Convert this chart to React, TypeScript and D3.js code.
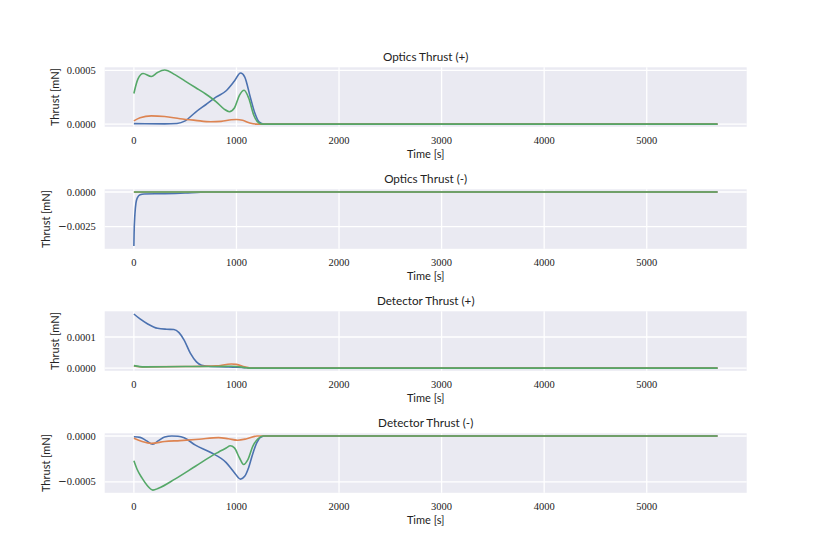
import React, { useRef, useEffect } from 'react';
import * as d3 from 'd3';

type Pt = [number, number];

// time [s], thrust [mN]
const optPlusBlue: Pt[] = [[0, 0.000004], [300, 0.000002], [420, 0.000006], [500, 0.00003], [600, 0.00011], [700, 0.00018], [800, 0.00025], [900, 0.00031], [980, 0.0004], [1040, 0.000475], [1080, 0.00044], [1135, 0.00025], [1180, 0.0001], [1220, 0.00002], [1270, 0], [5690, 0]];
const optPlusOrange: Pt[] = [[0, 0.00003], [60, 0.00006], [170, 0.000076], [300, 0.00007], [450, 0.00005], [600, 0.000035], [750, 0.000022], [850, 0.000025], [950, 0.00004], [1000, 0.000043], [1060, 0.000035], [1130, 0.00001], [1200, 0], [5690, 0]];
const optPlusGreen: Pt[] = [[0, 0.000285], [40, 0.00042], [90, 0.00047], [170, 0.000443], [230, 0.00048], [300, 0.000503], [400, 0.00046], [500, 0.0004], [600, 0.00034], [700, 0.00028], [800, 0.00021], [880, 0.00014], [930, 0.000115], [980, 0.00015], [1030, 0.00027], [1075, 0.000315], [1120, 0.00024], [1170, 0.00008], [1220, 0.00001], [1260, 0], [5690, 0]];

const optMinusBlue: Pt[] = [[0, -0.0039], [2, -0.003], [10, -0.0016], [20, -0.0008], [35, -0.0004], [60, -0.0002], [100, -0.00014], [300, -0.00012], [500, -0.00007], [650, -0.00001], [700, 0], [5690, 0]];
const optMinusOrange: Pt[] = [[0, -0.00001], [200, 0], [5690, 0]];
const optMinusGreen: Pt[] = [[0, 0], [200, 0], [5690, 0]];

const detPlusBlue: Pt[] = [[0, 0.000174], [60, 0.000158], [135, 0.000142], [230, 0.000128], [320, 0.000125], [390, 0.000124], [440, 0.000114], [490, 0.00009], [550, 0.000048], [610, 0.00002], [660, 0.000009], [750, 0.000005], [900, 0.000004], [1000, 0.000003], [1100, 0.000001], [1200, 0], [5690, 0]];
const detPlusOrange: Pt[] = [[0, 0.000007], [100, 0.000004], [500, 0.000005], [800, 0.000007], [950, 0.000013], [1000, 0.000012], [1080, 0.000004], [1150, 0], [5690, 0]];
const detPlusGreen: Pt[] = [[0, 0.000008], [100, 0.000004], [500, 0.000005], [800, 0.000005], [950, 0.000006], [1000, 0.000005], [1100, 0.000001], [1150, 0], [5690, 0]];

const detMinusBlue: Pt[] = [[0, -0.000008], [60, -0.000015], [120, -0.00005], [184, -0.00009], [240, -0.00005], [300, -0.00001], [370, 0], [430, -0.000003], [490, -0.00002], [600, -0.0001], [750, -0.00018], [900, -0.00029], [980, -0.0004], [1040, -0.00047], [1080, -0.00044], [1120, -0.00034], [1160, -0.00019], [1200, -0.00007], [1240, -0.00001], [1280, 0], [5690, 0]];
const detMinusOrange: Pt[] = [[0, -0.000025], [80, -0.00006], [170, -0.00008], [300, -0.00006], [450, -0.00005], [635, -0.000035], [825, -0.000018], [920, -0.00003], [1010, -0.000046], [1100, -0.00003], [1200, 0], [5690, 0]];
const detMinusGreen: Pt[] = [[0, -0.00027], [30, -0.00036], [80, -0.00046], [130, -0.00054], [185, -0.00059], [240, -0.00057], [400, -0.00047], [600, -0.00033], [800, -0.00019], [900, -0.00013], [940, -0.000107], [980, -0.00013], [1030, -0.00024], [1070, -0.00031], [1110, -0.00026], [1160, -0.00011], [1210, -0.00003], [1260, 0], [5690, 0]];

const titles = ['Optics Thrust (+)', 'Optics Thrust (-)', 'Detector Thrust (+)', 'Detector Thrust (-)'];
const yTicks = [[0, 0.0005], [-0.0025, 0], [0, 0.0001], [-0.0005, 0]];
const xTicks = [0, 1000, 2000, 3000, 4000, 5000];
const panels = [
  [optPlusBlue, optPlusOrange, optPlusGreen],
  [optMinusBlue, optMinusOrange, optMinusGreen],
  [detPlusBlue, detPlusOrange, detPlusGreen],
  [detMinusBlue, detMinusOrange, detMinusGreen],
];
const colors = ['#4C72B0', '#DD8452', '#55A868'];

const W = 830;
const H = 554;
const left = 104.7;
const right = 746.7;
const top0 = 67.3;
const step = 122;
const ph = 59.5;
const sans = 'Lato, "Noto Sans", sans-serif';
const serif = '"Liberation Serif", "DejaVu Serif", serif';

const App: React.FC = () => {
  const ref = useRef<SVGSVGElement | null>(null);

  useEffect(() => {
    if (!ref.current) return;
    const svg = d3.select(ref.current);
    svg.selectAll('*').remove();

    const tMin = d3.min(panels.flat().flat(), (p: any) => p[0]) as number;
    const tMax = d3.max(panels.flat().flat(), (p: any) => p[0]) as number;
    const tPad = (tMax - tMin) * 0.05;
    const x = d3.scaleLinear().domain([tMin - tPad, tMax + tPad]).range([left, right]);

    panels.forEach((series, i) => {
      const top = top0 + i * step;
      const bottom = top + ph;
      const vals = series.flat().map(p => p[1]);
      const lo = d3.min(vals) as number;
      const hi = d3.max(vals) as number;
      const pad = (hi - lo) * 0.05;
      const y = d3.scaleLinear().domain([lo - pad, hi + pad]).range([bottom, top]);

      const g = svg.append('g');
      g.append('rect')
        .attr('x', left).attr('y', top)
        .attr('width', right - left).attr('height', ph)
        .attr('fill', '#EAEAF2');

      const clipId = `clip${i}`;
      g.append('clipPath').attr('id', clipId)
        .append('rect')
        .attr('x', left).attr('y', top)
        .attr('width', right - left).attr('height', ph);

      g.selectAll('.gx')
        .data(xTicks)
        .enter()
        .append('line')
        .attr('x1', d => x(d)).attr('x2', d => x(d))
        .attr('y1', top).attr('y2', bottom)
        .attr('stroke', '#fff').attr('stroke-width', 1.3);

      g.selectAll('.gy')
        .data(yTicks[i])
        .enter()
        .append('line')
        .attr('x1', left).attr('x2', right)
        .attr('y1', d => y(d)).attr('y2', d => y(d))
        .attr('stroke', '#fff').attr('stroke-width', 1.3);

      const line = d3.line<Pt>()
        .x(d => x(d[0]))
        .y(d => y(d[1]))
        .curve(d3.curveMonotoneX);

      series.forEach((s, k) => {
        g.append('path')
          .datum(s)
          .attr('clip-path', `url(#${clipId})`)
          .attr('fill', 'none')
          .attr('stroke', colors[k])
          .attr('stroke-width', 1.6)
          .attr('stroke-linejoin', 'round')
          .attr('d', line);
      });

      // tick labels
      g.selectAll('.tx')
        .data(xTicks)
        .enter()
        .append('text')
        .attr('x', d => x(d))
        .attr('y', bottom + 17)
        .attr('text-anchor', 'middle')
        .style('font-family', serif)
        .style('font-size', '10.5px')
        .attr('fill', '#222')
        .text(d => String(d));

      const yl = g.selectAll('.ty')
        .data(yTicks[i])
        .enter()
        .append('text')
        .attr('x', left - 9)
        .attr('y', d => y(d) + 3.5)
        .attr('text-anchor', 'end')
        .style('font-family', serif)
        .style('font-size', '10.5px')
        .attr('fill', '#222');
      // wide math minus, as in the LaTeX-rendered labels
      yl.filter(d => d < 0)
        .append('tspan')
        .style('font-family', '"DejaVu Sans", sans-serif')
        .text('\u2212');
      yl.append('tspan').text(d => Math.abs(d).toFixed(4));

      let maxW = 0;
      yl.each(function () {
        maxW = Math.max(maxW, (this as SVGTextElement).getComputedTextLength());
      });

      g.append('text')
        .attr('transform', `translate(${left - 9 - maxW - 8},${(top + bottom) / 2}) rotate(-90)`)
        .attr('text-anchor', 'middle')
        .style('font-family', sans)
        .style('font-size', '11px')
        .attr('fill', '#222')
        .text('Thrust [mN]');

      g.append('text')
        .attr('x', (left + right) / 2)
        .attr('y', bottom + 31.5)
        .attr('text-anchor', 'middle')
        .style('font-family', sans)
        .style('font-size', '11px')
        .attr('fill', '#222')
        .text('Time [s]');

      g.append('text')
        .attr('x', (left + right) / 2)
        .attr('y', top - 6)
        .attr('text-anchor', 'middle')
        .style('font-family', sans)
        .style('font-size', '11.7px')
        .attr('fill', '#222')
        .text(titles[i]);
    });
  }, []);

  return (
    <svg
      ref={ref}
      width={W}
      height={H}
      style={{ position: 'absolute', left: 0, top: 0, background: '#fff' }}
    />
  );
};

export default App;
